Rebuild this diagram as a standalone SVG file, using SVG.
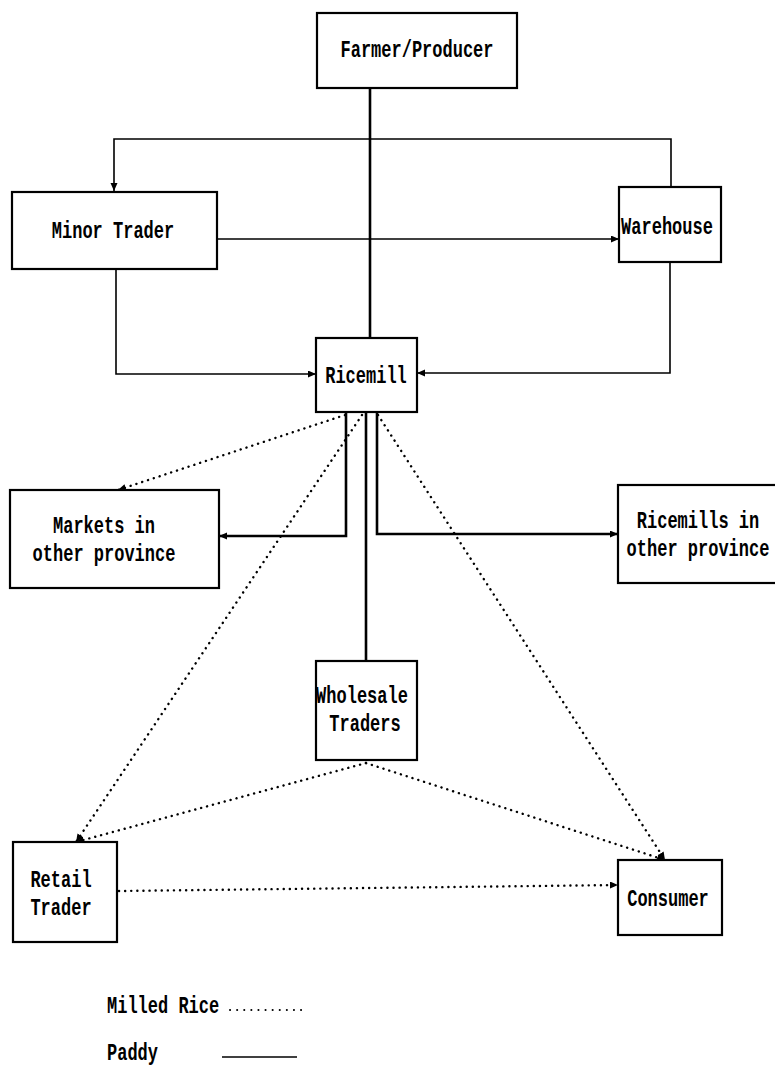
<svg xmlns="http://www.w3.org/2000/svg" width="775" height="1068" viewBox="0 0 775 1068">
<defs>
<marker id="arr" markerUnits="userSpaceOnUse" markerWidth="9" markerHeight="8" refX="8" refY="3.5" orient="auto">
<path d="M0,0 L8,3.5 L0,7 z" fill="#000"/>
</marker>
</defs>
<style>
.box{fill:#fff;stroke:#000;stroke-width:2.2}
.t{font-family:"Liberation Mono","DejaVu Sans Mono",monospace;font-weight:bold;font-size:17px;fill:#000;text-anchor:middle}
.tl{font-family:"Liberation Mono","DejaVu Sans Mono",monospace;font-weight:bold;font-size:17px;fill:#000}
.s{fill:none;stroke:#000;stroke-width:1.6}
.sb{fill:none;stroke:#000;stroke-width:2.6}
.d{fill:none;stroke:#000;stroke-width:2.4;stroke-dasharray:0.1 6;stroke-linecap:round}
</style>
<rect width="775" height="1068" fill="#fff"/>
<g id="connectors">
<line class="sb" x1="370" y1="88" x2="370" y2="338"/>
<path class="s" d="M671,187 V139 H114 V191" marker-end="url(#arr)"/>
<path class="s" d="M217,239 H619" marker-end="url(#arr)"/>
<path class="s" d="M116,269 V374 H316" marker-end="url(#arr)"/>
<path class="s" d="M670,262 V373 H417" marker-end="url(#arr)"/>
<path class="sb" d="M346,412 V536 H219" marker-end="url(#arr)"/>
<path class="sb" d="M366,412 V661"/>
<path class="sb" d="M377,412 V534 H618" marker-end="url(#arr)"/>
<path class="d" d="M345,415 L118,490" marker-end="url(#arr)"/>
<path class="d" d="M362,415 L76,842" marker-end="url(#arr)"/>
<path class="d" d="M378,415 L665,860" marker-end="url(#arr)"/>
<path class="d" d="M366,763 L76,842" marker-end="url(#arr)"/>
<path class="d" d="M366,763 L665,860" marker-end="url(#arr)"/>
<path class="d" d="M119,891 L618,885" marker-end="url(#arr)"/>
</g>
<g id="farmer">
<rect class="box" x="317" y="13" width="200" height="75"/>
<text class="t" transform="translate(417,57) scale(1,1.4)">Farmer/Producer</text>
</g>
<g id="minor-trader">
<rect class="box" x="12" y="192" width="205" height="77"/>
<text class="t" transform="translate(113,238) scale(1,1.4)">Minor Trader</text>
</g>
<g id="warehouse">
<rect class="box" x="619" y="187" width="102" height="75"/>
<text class="t" transform="translate(667,234) scale(1,1.4)">Warehouse</text>
</g>
<g id="ricemill">
<rect class="box" x="316" y="338" width="101" height="74"/>
<text class="t" transform="translate(366,383) scale(1,1.4)">Ricemill</text>
</g>
<g id="markets">
<rect class="box" x="10" y="490" width="209" height="98"/>
<text class="t" transform="translate(104,533) scale(1,1.4)">Markets in</text>
<text class="t" transform="translate(104,561) scale(1,1.4)">other province</text>
</g>
<g id="ricemills">
<rect class="box" x="618" y="485" width="180" height="98"/>
<text class="t" transform="translate(698,528) scale(1,1.4)">Ricemills in</text>
<text class="t" transform="translate(698,556) scale(1,1.4)">other province</text>
</g>
<g id="wholesale">
<rect class="box" x="316" y="661" width="101" height="99"/>
<text class="t" transform="translate(362,703) scale(1,1.4)">Wholesale</text>
<text class="t" transform="translate(365,731) scale(1,1.4)">Traders</text>
</g>
<g id="retail">
<rect class="box" x="13" y="842" width="104" height="100"/>
<text class="t" transform="translate(61,887) scale(1,1.4)">Retail</text>
<text class="t" transform="translate(61,915) scale(1,1.4)">Trader</text>
</g>
<g id="consumer">
<rect class="box" x="618" y="860" width="104" height="75"/>
<text class="t" transform="translate(668,906) scale(1,1.4)">Consumer</text>
</g>
<g id="legend">
<text class="tl" transform="translate(107,1013) scale(1,1.4)">Milled Rice</text>
<path class="d" d="M230,1010 H302" style="stroke-width:2;stroke-dasharray:0.1 7"/>
<text class="tl" transform="translate(107,1060) scale(1,1.4)">Paddy</text>
<line class="s" x1="222" y1="1057" x2="297" y2="1057"/>
</g>
</svg>
